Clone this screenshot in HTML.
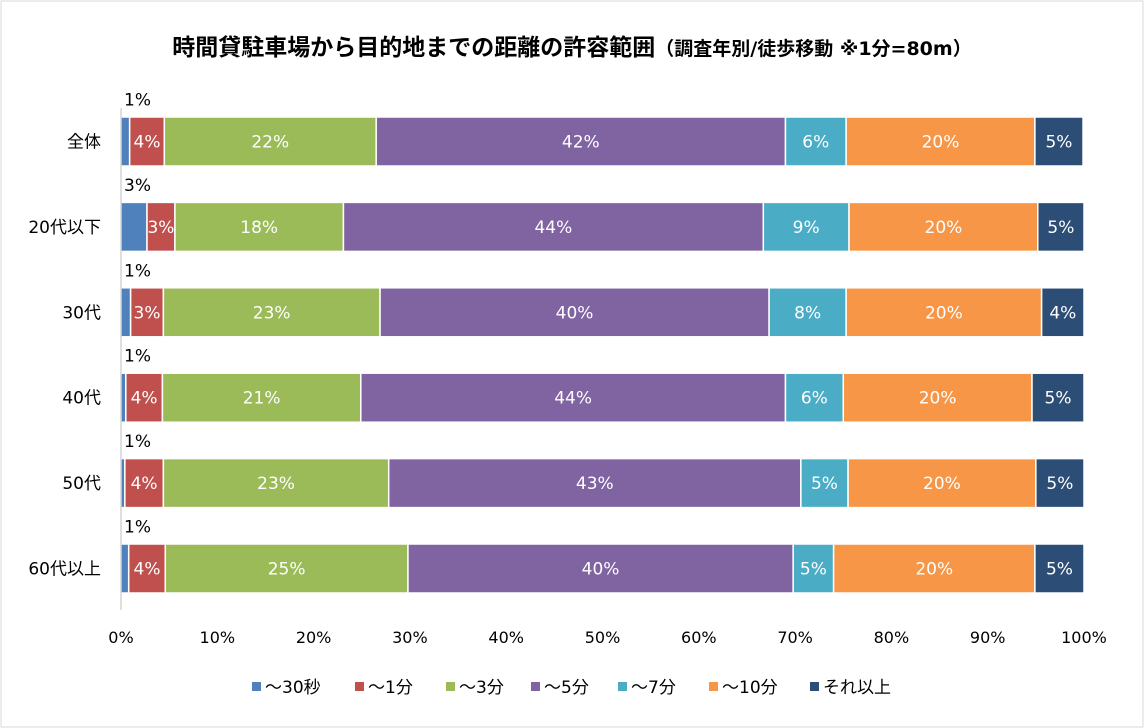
<!DOCTYPE html>
<html><head><meta charset="utf-8"><style>
body{margin:0;background:#fff;}
svg{display:block;font-family:"DejaVu Sans","Noto Sans CJK JP",sans-serif;}
</style></head><body>
<svg id="c" width="1144" height="728">
<rect x="1" y="1" width="1142" height="726" fill="#fff" stroke="#d9d9d9"/>
<text x="572" y="55" text-anchor="middle" font-size="23" font-weight="bold" fill="#000">時間貸駐車場から目的地までの距離の許容範囲<tspan font-size="19">（調査年別/徒歩移動 ※1分=80m）</tspan></text>
</svg>
<script>
const categories=["全体","20代以下","30代","40代","50代","60代以上"];
const seriesNames=["～30秒","～1分","～3分","～5分","～7分","～10分","それ以上"];
const colors=["#4f81bd","#c0504d","#9bbb59","#8064a2","#4bacc6","#f79646","#2c4d75"];
const s30sec=[0.9,3.6,22.0,42.5,6.3,19.6,5.0];
const s20s=[2.7,2.9,17.5,43.6,8.9,19.6,4.8];
const s30s=[1.0,3.4,22.5,40.4,8.0,20.3,4.4];
const s40s=[0.5,3.8,20.6,44.1,6.0,19.6,5.4];
const s50s=[0.4,4.0,23.4,42.8,4.9,19.5,5.0];
const s60s=[0.8,3.8,25.2,40.0,4.2,20.9,5.1];
const values=[s30sec,s20s,s30s,s40s,s50s,s60s];
const labels=[["1%","4%","22%","42%","6%","20%","5%"],["3%","3%","18%","44%","9%","20%","5%"],["1%","3%","23%","40%","8%","20%","4%"],["1%","4%","21%","44%","6%","20%","5%"],["1%","4%","23%","43%","5%","20%","5%"],["1%","4%","25%","40%","5%","20%","5%"]];
const ticks=[0,10,20,30,40,50,60,70,80,90,100];
const NS="http://www.w3.org/2000/svg",svg=document.getElementById('c');
const x=v=>121+v*9.63;
const yc=i=>141.5+i*85.4;
const bh=49;
function el(t,a,p){const e=document.createElementNS(NS,t);for(const k in a)e.setAttribute(k,a[k]);(p||svg).appendChild(e);return e;}
categories.forEach((cat,i)=>{
  const t=el('text',{x:101,y:yc(i)+6,'text-anchor':'end','font-size':17,fill:'#000'});t.textContent=cat;
  
  
  let acc=0;
  values[i].forEach((v,j)=>{
    const r=el('rect',{x:x(acc),y:yc(i)-bh/2,width:v*9.63,height:bh,fill:colors[j],stroke:'#fff','stroke-width':1.5});
    
    
    const lb=j===0?el('text',{x:124,y:yc(i)-36,'font-size':17,fill:'#000'}):el('text',{x:x(acc+v/2),y:yc(i)+6,'text-anchor':'middle','font-size':17,fill:'#fff'});
    lb.textContent=labels[i][j];
    
    
    acc+=v;
  });
});
const ax=el('line',{x1:121,x2:121,y1:108,y2:610,stroke:'#bfbfbf','stroke-width':1});


ticks.forEach(t=>{
  const e=el('text',{x:x(t),y:643,'text-anchor':'middle','font-size':16,fill:'#000'});e.textContent=t+'%';
  
  
});
const lx=[252,355,446,531,618,709,810];
seriesNames.forEach((n,j)=>{
  const g=el('g',{});
  
  
  el('rect',{x:lx[j],y:682,width:9,height:9,fill:colors[j]},g);
  const t=el('text',{x:lx[j]+13,y:693,'font-size':17,fill:'#000'},g);t.textContent=n;
});
</script>
</body></html>
